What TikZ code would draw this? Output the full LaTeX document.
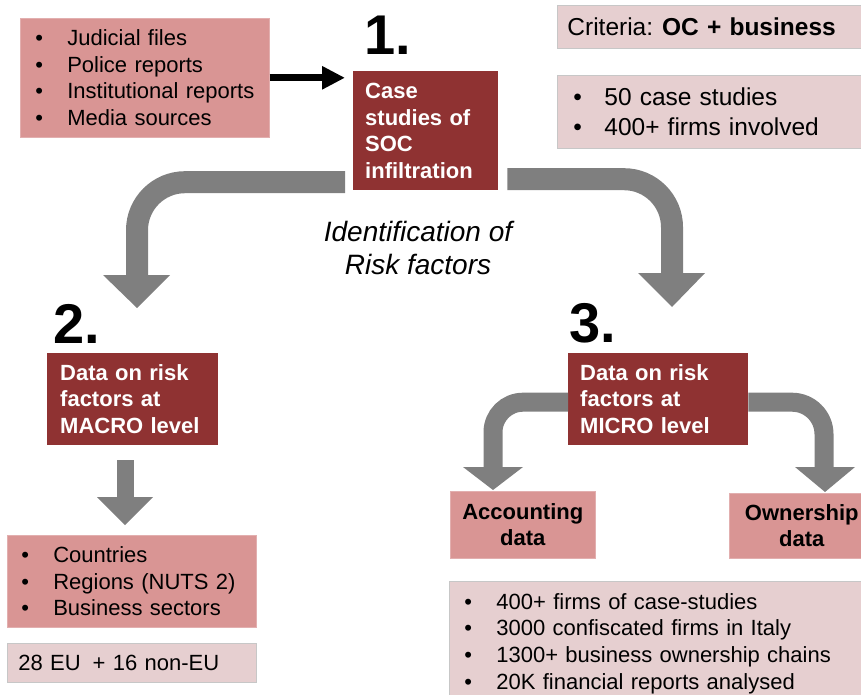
\documentclass[tikz,border=0pt]{standalone}
\usepackage{fontspec}
\setmainfont{Liberation Sans}
\usetikzlibrary{arrows.meta,calc}

\definecolor{pinkbox}{HTML}{D99594}
\definecolor{palebox}{HTML}{E6CFD0}
\definecolor{darkred}{HTML}{8F3232}
\definecolor{arrowgray}{HTML}{7F7F7F}

% line struts that centre each text line on its x-height
\newcommand\lstrut{\rule[-5.6pt]{0pt}{26.7pt}}
\newcommand\lstrutL{\rule[-6.4pt]{0pt}{30pt}}
\newcommand\bitem[1]{\lstrut\makebox[32pt][l]{\textbullet}\mbox{#1}}
\newcommand\bitemL[1]{\lstrutL\makebox[31pt][l]{\textbullet}\mbox{#1}}

\begin{document}
\begin{tikzpicture}[x=1pt,y=-1pt,
  box/.style={font=\fontsize{22}{26.7}\selectfont, anchor=north west,
    inner ysep=0pt, align=left},
  pink/.style={box, fill=pinkbox, draw=pinkbox!75!white, line width=0.6pt},
  pale/.style={box, fill=palebox, draw=black!22, line width=0.8pt},
  large/.style={font=\fontsize{24.5}{30}\selectfont},
  dark/.style={box, fill=darkred, text=white,
    font=\fontsize{22}{26.7}\selectfont\bfseries},
  label/.style={pink, align=center, font=\fontsize{22}{26.7}\selectfont\bfseries},
  stepnum/.style={anchor=base west, inner sep=0pt,
    font=\fontsize{56}{56}\selectfont\bfseries},
  band/.style={draw=arrowgray, line width=22pt, rounded corners=48pt},
  head/.style={fill=arrowgray}
]
\useasboundingbox (0,0) rectangle (861,695);
\clip (0,0) rectangle (861,695);

% ---- step 1: sources and case studies
\node[pink, text width=219, minimum height=119, inner xsep=15] (sources) at (20,18)
  {\bitem{Judicial files}\\\bitem{Police reports}\\\bitem{Institutional reports}\\\bitem{Media sources}};
\node[stepnum] (n1) at (364,55) {1.};
\node[dark, text width=121, minimum height=119, inner xsep=12] (case) at (353,71)
  {\lstrut Case\\\lstrut studies of\\\lstrut SOC\\\lstrut infiltration};
\node[pale, large, text width=309, minimum height=43, inner xsep=10] (criteria) at (557,5)
  {\lstrutL Criteria:\hspace*{9pt}\textbf{OC + business}};
\node[pale, large, text width=298, minimum height=73, inner xsep=16] (cases) at (557,75)
  {\bitemL{50 case studies}\\\bitemL{400+ firms involved}};

\node[font=\fontsize{28}{33}\selectfont\itshape, align=center] (ident) at (418,248)
  {Identification of\\Risk factors};

% ---- step 2: macro level
\node[stepnum] (n2) at (53,343) {2.};
\node[dark, text width=145, minimum height=92, inner xsep=13] (macro) at (47,353)
  {\lstrut Data on risk\\\lstrut factors at\\\lstrut MACRO level};
\node[pink, text width=221, minimum height=92, inner xsep=14] (levels) at (7,535)
  {\bitem{Countries}\\\bitem{Regions (NUTS 2)}\\\bitem{Business sectors}};
\node[pale, text width=227, minimum height=39, inner xsep=11] (countries) at (7,643)
  {\lstrut 28 EU\hspace*{12pt}+ 16 non-EU};

% ---- step 3: micro level
\node[stepnum] (n3) at (569,342) {3.};
\node[dark, text width=156, minimum height=92, inner xsep=12] (micro) at (568,353)
  {\lstrut Data on risk\\\lstrut factors at\\\lstrut MICRO level};
\node[label, text width=137, minimum height=67, inner xsep=4] (acc) at (450,491)
  {\lstrut Accounting\\\lstrut data};
\node[label, text width=137, minimum height=65, inner xsep=4] (own) at (729,493)
  {\lstrut Ownership\\\lstrut data};
\node[pale, text width=400, minimum height=120, inner xsep=15] (firms) at (449,581)
  {\bitem{400+ firms of case-studies}\\\bitem{3000 confiscated firms in Italy}\\
   \bitem{1300+ business ownership chains}\\\bitem{20K financial reports analysed}};

% ---- connectors
\draw[line width=7pt, -{Triangle[length=23pt,width=22pt]}, shorten >=8pt]
  (sources.east) -- (sources.east -| case.west);

\coordinate (tipL) at (137,308);
\coordinate (tipR) at (672,307);
\draw[band] ($(case.west)+(-8,51.5)$) -| ($(tipL)+(0,-32)$);
\fill[head] (tipL) -- ++(-34,-33) -- ++(67,0) -- cycle;
\draw[band] ($(case.east)+(9,48.5)$) -| ($(tipR)+(0,-33)$);
\fill[head] (tipR) -- ++(-34,-34) -- ++(67,0) -- cycle;

\coordinate (tipM) at (125,525);
\draw[band, line width=17pt] ($(macro.south -| tipM)+(0,15)$) -- ($(tipM)+(0,-27)$);
\fill[head] (tipM) -- ++(-28,-28) -- ++(56,0) -- cycle;

\coordinate (tipA) at (493,490);
\coordinate (tipO) at (825,492);
\draw[band, line width=19pt, rounded corners=30pt] ($(micro.west)+(0,3)$) -| ($(tipA)+(0,-22)$);
\fill[head] (tipA) -- ++(-30,-23) -- ++(60,0) -- cycle;
\draw[band, line width=19pt, rounded corners=32pt] ($(micro.east)+(0,3)$) -| ($(tipO)+(-1,-24)$);
\fill[head] (tipO) -- ++(-30,-25) -- ++(60,0) -- cycle;
\end{tikzpicture}
\end{document}
